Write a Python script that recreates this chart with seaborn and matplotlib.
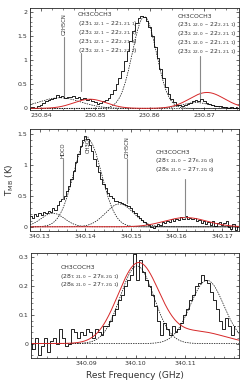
import numpy as np
import seaborn as sns
import matplotlib.pyplot as plt

# ---- observed spectra (read off the picture) ----
# panel 1: 230.84 GHz band, channel 0.0005 GHz starting at 230.838
freq1_start, chan1 = 230.838, 0.0005
tmb1 = [0.0, 0.02, 0.01, 0.04, 0.08, 0.12, 0.15, 0.18, 0.2, 0.22, 0.27, 0.24,
        0.25, 0.22, 0.24, 0.23, 0.25, 0.22, 0.24, 0.2, 0.22, 0.18, 0.2, 0.15,
        0.14, 0.1, 0.12, 0.15, 0.18, 0.22, 0.3, 0.38, 0.5, 0.62, 0.78, 0.98,
        1.18, 1.4, 1.6, 1.78, 1.88, 1.92, 1.9, 1.82, 1.68, 1.5, 1.28, 1.05,
        0.82, 0.62, 0.45, 0.3, 0.2, 0.13, 0.08, 0.06, 0.05, 0.07, 0.1, 0.12,
        0.15, 0.17, 0.15, 0.2, 0.16, 0.12, 0.1, 0.07, 0.05, 0.04, 0.05, 0.02,
        0.03, 0.01, 0.03, 0.0, 0.02]

# panel 2: 340.13 GHz band, channel 0.0005 GHz starting at 340.128
freq2_start, chan2 = 340.128, 0.0005
tmb2 = [0.18, 0.15, 0.2, 0.17, 0.22, 0.19, 0.24, 0.22, 0.26, 0.24, 0.3, 0.27,
        0.35, 0.42, 0.45, 0.5, 0.58, 0.66, 0.78, 0.9, 1.05, 1.18, 1.3, 1.4,
        1.47, 1.42, 1.32, 1.22, 1.1, 0.98, 0.88, 0.78, 0.7, 0.62, 0.55, 0.5,
        0.46, 0.42, 0.42, 0.4, 0.38, 0.37, 0.36, 0.33, 0.3, 0.26, 0.22, 0.18,
        0.14, 0.11, 0.08, 0.05, 0.03, 0.0, -0.02, 0.02, 0.05, 0.03, 0.08, 0.06,
        0.1, 0.08, 0.12, 0.09, 0.13, 0.11, 0.16, 0.12, 0.18, 0.13, 0.15, 0.12,
        0.14, 0.09, 0.11, 0.07, 0.1, 0.05, 0.08, 0.03, 0.1, 0.02, 0.06, 0.08,
        0.03, 0.07, 0.1, 0.0, -0.04, 0.05, -0.05, 0.02]

# panel 3: 340.10 GHz band, channel 0.0006 GHz starting at 340.0788
freq3_start, chan3 = 340.0788, 0.0006
tmb3 = [0.0, -0.02, 0.02, -0.04, -0.01, 0.02, -0.03, 0.01, 0.02, 0.0, 0.05,
        0.02, -0.01, 0.0, 0.05, 0.04, 0.02, 0.04, 0.03, 0.05, 0.04, 0.02, 0.05,
        0.04, 0.03, 0.06, 0.06, 0.08, 0.1, 0.12, 0.15, 0.17, 0.2, 0.22, 0.24,
        0.31, 0.22, 0.29, 0.25, 0.22, 0.2, 0.17, 0.13, 0.08, 0.03, 0.07, 0.05,
        0.03, 0.06, 0.04, 0.05, 0.07, 0.1, 0.12, 0.15, 0.17, 0.2, 0.21, 0.24,
        0.22, 0.21, 0.18, 0.15, 0.12, 0.08, 0.05, 0.09, 0.06, 0.03, 0.06]

# ---- fitted gaussian components: (centre GHz, peak K, FWHM GHz) ----
fit1_black = [(230.8435, 0.22, 0.0090), (230.8590, 1.90, 0.0052), (230.8685, 0.12, 0.0060)]
fit1_red = [(230.8490, 0.19, 0.0070), (230.8705, 0.33, 0.0075)]
fit2_black = [(340.1329, 0.22, 0.0060), (340.1405, 1.42, 0.0072), (340.1475, 0.37, 0.0072)]
fit2_red = [(340.1620, 0.15, 0.0110)]
fit3_black = [(340.1003, 0.27, 0.0080), (340.1145, 0.22, 0.0080)]
fit3_red = [(340.1006, 0.28, 0.0098), (340.1130, 0.04, 0.0120)]

sns.set_style("ticks")
plt.rcParams.update({'font.family': ['DejaVu Sans'], 'font.size': 5,
                     'xtick.direction': 'in', 'ytick.direction': 'in',
                     'xtick.top': True, 'ytick.right': True,
                     'xtick.major.size': 2.5, 'ytick.major.size': 2.5,
                     'xtick.minor.size': 1.2, 'ytick.minor.size': 1.2,
                     'xtick.labelcolor': '#333333', 'ytick.labelcolor': '#333333',
                     'axes.linewidth': 0.6})


def comp(grid, c, a, w):
    s = w / 2.3548
    return a * np.exp(-0.5 * ((grid - c) / s) ** 2)


def draw_panel(ax, f0, dch, tmb, black, red, xlim, ylim):
    freq = f0 + dch * np.arange(len(tmb))
    sns.lineplot(x=freq, y=tmb, drawstyle='steps-mid', color='k', lw=0.6, ax=ax)
    grid = np.linspace(xlim[0], xlim[1], 400)
    for c, a, w in black:
        sns.lineplot(x=grid, y=comp(grid, c, a, w), color='k', lw=0.5,
                     linestyle=(0, (2, 1.5)), ax=ax)
    rsum = sum(comp(grid, c, a, w) for c, a, w in red)
    sns.lineplot(x=grid, y=rsum, color='#d62728', lw=0.7, ax=ax)
    ax.set_xlim(*xlim)
    ax.set_ylim(*ylim)
    ax.minorticks_on()
    ax.tick_params(labelsize=4.5, pad=2, width=0.5)
    ax.tick_params(which='minor', width=0.4)
    ax.ticklabel_format(useOffset=False, axis='x')


def mark(ax, x, y0, y1, label=None, ylab=None):
    ax.plot([x, x], [y0, y1], color='#888888', lw=0.8)
    if label:
        ax.text(x, ylab, label, rotation=90, ha='center', va='bottom',
                fontsize=3.8, color='#333333')


def block(ax, x, y0, lines, step):
    for i, t in enumerate(lines):
        ax.text(x, y0 - i * step, t, transform=ax.transAxes,
                fontsize=4.4, color='#333333', va='center')


fig = plt.figure(figsize=(2.46, 3.84), dpi=100)
ax1 = fig.add_axes([0.122, 0.714, 0.850, 0.265])
ax2 = fig.add_axes([0.122, 0.398, 0.850, 0.266])
ax3 = fig.add_axes([0.126, 0.068, 0.846, 0.273])

# panel 1
draw_panel(ax1, freq1_start, chan1, tmb1, fit1_black, fit1_red,
           (230.838, 230.8764), (-0.03, 2.08))
ax1.set_xticks([230.84, 230.85, 230.86, 230.87])
ax1.set_xticklabels(['230.84', '230.85', '230.86', '230.87'])
ax1.set_yticks([0, 0.5, 1, 1.5, 2])
ax1.set_yticklabels(['0', '0.5', '1', '1.5', '2'])
mark(ax1, 230.8443, 0.25, 1.48, 'C2H5CN', 1.52)
mark(ax1, 230.8473, 0.35, 1.15)
mark(ax1, 230.8693, 0.22, 1.08)
block(ax1, 0.228, 0.935,
      ['CH3COCH3',
       r'(23$_{1,22,1}$ – 22$_{1,21,1}$)',
       r'(23$_{2,22,1}$ – 22$_{2,21,1}$)',
       r'(23$_{1,22,1}$ – 22$_{2,21,2}$)',
       r'(23$_{2,22,1}$ – 22$_{1,21,2}$)'], 0.088)
block(ax1, 0.705, 0.92,
      ['CH3COCH3',
       r'(23$_{1,22,0}$ – 22$_{2,21,1}$)',
       r'(23$_{2,22,0}$ – 22$_{2,21,1}$)',
       r'(23$_{1,22,0}$ – 22$_{1,21,1}$)',
       r'(23$_{2,22,0}$ – 22$_{1,21,1}$)'], 0.088)

# panel 2
draw_panel(ax2, freq2_start, chan2, tmb2, fit2_black, fit2_red,
           (340.1279, 340.1737), (-0.07, 1.58))
ax2.set_xticks([340.13, 340.14, 340.15, 340.16, 340.17])
ax2.set_xticklabels(['340.13', '340.14', '340.15', '340.16', '340.17'])
ax2.set_yticks([0, 0.5, 1, 1.5])
ax2.set_yticklabels(['0', '0.5', '1', '1.5'])
ax2.set_ylabel(r'T$_{\rm MB}$ (K)', fontsize=6.5, color='#333333', labelpad=1)
mark(ax2, 340.1352, 0.45, 1.1, 'HDCO', 1.12)
mark(ax2, 340.1406, 1.48, 1.48, 'CH3OH', 1.2)
mark(ax2, 340.1492, 0.38, 1.1, 'C2H5CN', 1.12)
mark(ax2, 340.1618, 0.15, 0.78)
block(ax2, 0.6, 0.77,
      ['CH3COCH3',
       r'(28$_{7,21,0}$ – 27$_{6,20,0}$)',
       r'(28$_{8,21,0}$ – 27$_{7,20,0}$)'], 0.085)

# panel 3
draw_panel(ax3, freq3_start, chan3, tmb3, fit3_black, fit3_red,
           (340.0788, 340.1210), (-0.05, 0.315))
ax3.set_xticks([340.09, 340.10, 340.11])
ax3.set_xticklabels(['340.09', '340.10', '340.11'])
ax3.set_yticks([0, 0.1, 0.2, 0.3])
ax3.set_yticklabels(['0', '0.1', '0.2', '0.3'])
ax3.set_xlabel('Rest Frequency (GHz)', fontsize=6.5, color='#333333', labelpad=4)
block(ax3, 0.14, 0.86,
      ['CH3COCH3',
       r'(28$_{7,21,0}$ – 27$_{8,20,1}$)',
       r'(28$_{8,21,0}$ – 27$_{7,20,1}$)'], 0.083)

plt.savefig('out.png', dpi=100)
